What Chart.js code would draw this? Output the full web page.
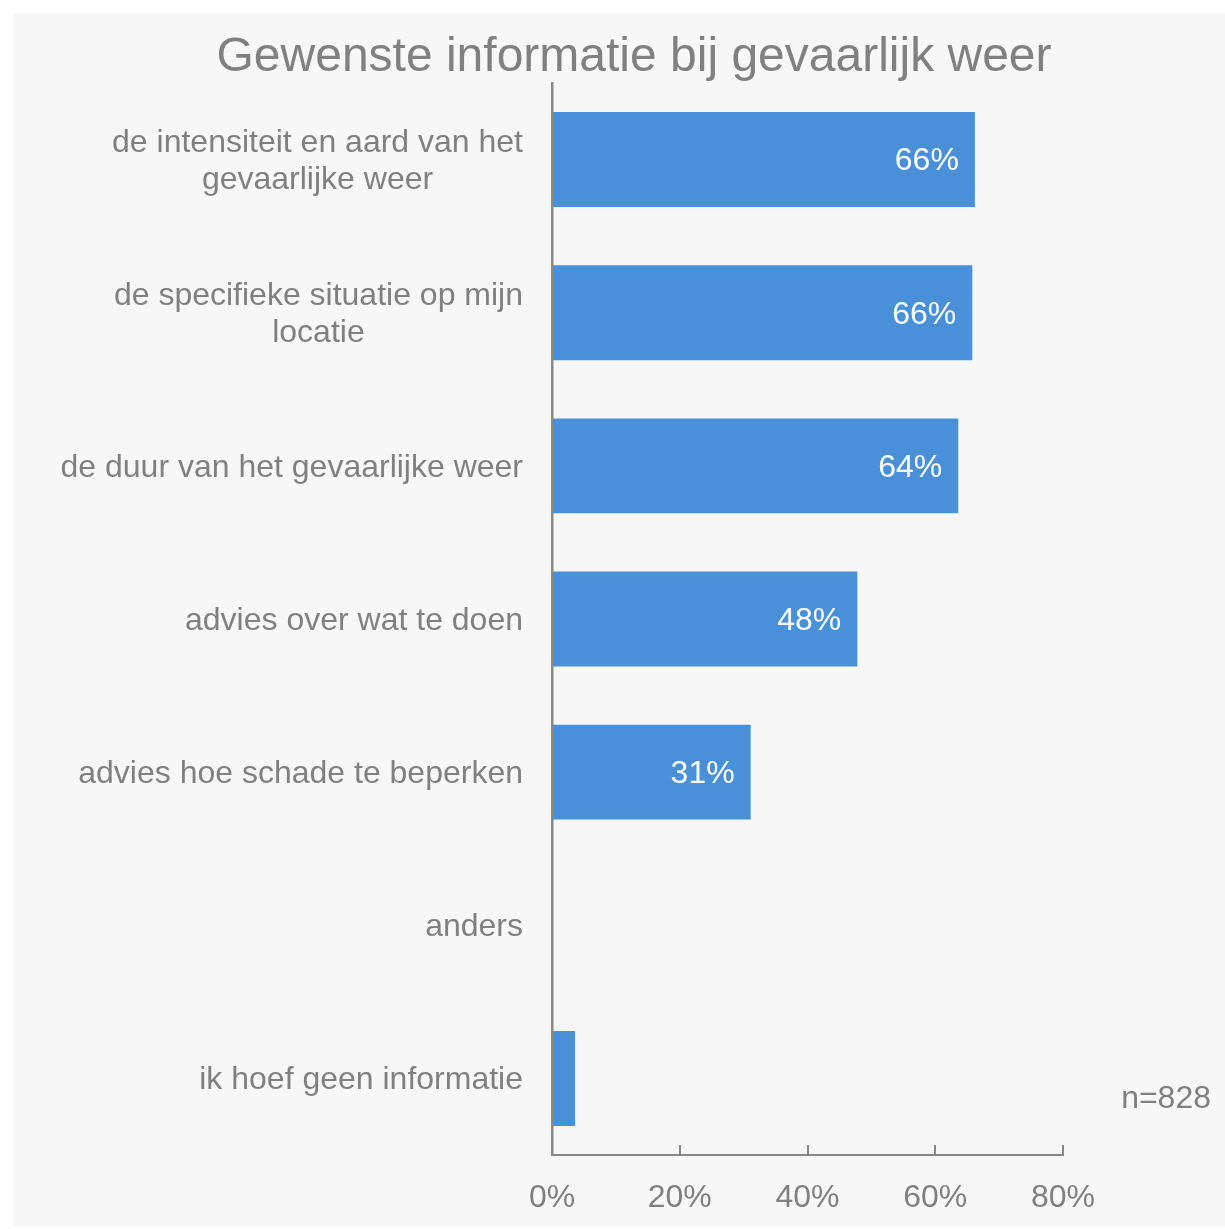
<!DOCTYPE html>
<html>
<head>
<meta charset="utf-8">
<script src="https://cdn.jsdelivr.net/npm/chart.js@4"></script>
<style>
  html, body { margin: 0; padding: 0; background: #fff; }
  #wrap { position: absolute; left: 0; top: 0; width: 1225px; height: 1229px; }
</style>
</head>
<body>
<div id="wrap"><canvas id="chart" width="1225" height="1229"></canvas></div>
<script>
// categorieën en waarden (percentages)
const categories = [
  ['de intensiteit en aard van het', 'gevaarlijke weer'],
  ['de specifieke situatie op mijn', 'locatie'],
  'de duur van het gevaarlijke weer',
  'advies over wat te doen',
  'advies hoe schade te beperken',
  'anders',
  'ik hoef geen informatie'
];
const values = [66.2, 65.8, 63.6, 47.8, 31.1, 0, 3.6];
const valueLabels = ['66%', '66%', '64%', '48%', '31%', '', ''];
const xTicks = [0, 20, 40, 60, 80];

const titleText = 'Gewenste informatie bij gevaarlijk weer';
const noteText = 'n=828';

const gray = '#808080';
const font = 'Liberation Sans, Arial, sans-serif';

// achtergrond: wit met grijs vlak
const background = {
  id: 'background',
  beforeDraw(chart) {
    const c = chart.ctx;
    c.save();
    c.fillStyle = '#ffffff';
    c.fillRect(0, 0, chart.width, chart.height);
    c.fillStyle = '#f7f7f7';
    c.fillRect(13, 13, chart.width - 13, chart.height - 15);
    c.restore();
  }
};

// titel, categorie-labels (regels gecentreerd, blok rechts uitgelijnd), waarden, n
const texts = {
  id: 'texts',
  afterDatasetsDraw(chart) {
    const c = chart.ctx;
    const y = chart.scales.y;
    c.save();

    c.fillStyle = gray;
    c.font = '48px ' + font;
    c.textAlign = 'center';
    c.textBaseline = 'alphabetic';
    c.fillText(titleText, 634, 71);

    c.font = '32px ' + font;
    c.textBaseline = 'middle';
    const right = y.right - 29;
    const lh = 37;
    categories.forEach((lab, i) => {
      const lines = Array.isArray(lab) ? lab : [lab];
      const w = Math.max(...lines.map(l => c.measureText(l).width));
      const cx = right - w / 2;
      const cy = y.getPixelForTick(i) + 2;
      lines.forEach((l, j) => {
        c.fillText(l, cx, cy + (j - (lines.length - 1) / 2) * lh);
      });
    });

    c.textAlign = 'right';
    c.fillText(noteText, 1211, 1099);

    const meta = chart.getDatasetMeta(0);
    c.fillStyle = '#ffffff';
    meta.data.forEach((bar, i) => {
      if (!valueLabels[i]) return;
      c.fillText(valueLabels[i], bar.x - 16, bar.y + 2);
    });
    c.restore();
  }
};

new Chart(document.getElementById('chart'), {
  type: 'bar',
  data: {
    labels: categories,
    datasets: [{
      data: values,
      backgroundColor: '#4a90d9',
      categoryPercentage: 1,
      barPercentage: 0.62
    }]
  },
  options: {
    indexAxis: 'y',
    responsive: false,
    animation: false,
    layout: { padding: { left: 0, right: 162, top: 83, bottom: 0 } },
    plugins: {
      legend: { display: false },
      tooltip: { enabled: false },
      title: { display: false }
    },
    scales: {
      x: {
        min: 0,
        max: 80,
        afterBuildTicks(scale) {
          scale.ticks = xTicks.map(v => ({ value: v }));
        },
        afterFit(scale) { scale.height = 74; },
        grid: { drawOnChartArea: false, drawTicks: true, tickLength: -10, color: '#888888', lineWidth: 2 },
        border: { color: '#888888', width: 2 },
        ticks: {
          color: gray,
          font: { family: font, size: 32 },
          padding: 34,
          callback: v => v + '%'
        }
      },
      y: {
        afterFit(scale) { scale.width = 552; },
        grid: { display: false, drawTicks: false },
        border: { color: '#888888', width: 2.5 },
        ticks: { display: false }
      }
    }
  },
  plugins: [background, texts]
});
</script>
</body>
</html>
